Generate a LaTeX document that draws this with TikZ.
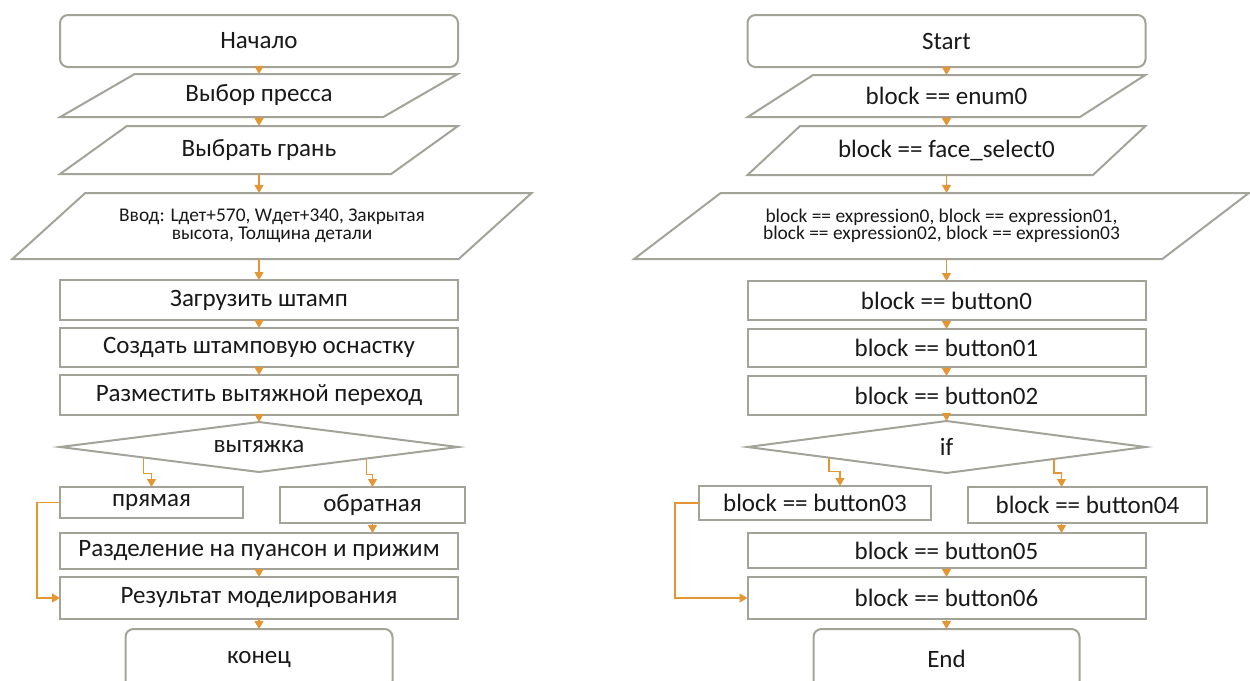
\documentclass[tikz,border=0pt]{standalone}
\usepackage{fontspec}
\setmainfont{Carlito}
\usepackage{tikz}
\usetikzlibrary{arrows.meta,positioning,shapes.geometric,calc}

\definecolor{linegray}{RGB}{163,163,154}
\definecolor{floworange}{RGB}{229,150,52}

\tikzset{
  box/.style={draw=linegray, line width=1pt, fill=white, inner sep=1pt, outer sep=0pt,
    text=black!90, font=\fontsize{12.5}{15}\selectfont},
  term/.style={box, rectangle, rounded corners=4pt, minimum width=199pt, minimum height=26pt},
  proc/.style={box, rectangle, minimum width=199pt, minimum height=20pt},
  io/.code={\pgfmathsetmacro\ioright{180-#1}
    \tikzset{box, trapezium, trapezium stretches=true, minimum width=199pt,
      trapezium left angle=#1, trapezium right angle/.expanded=\ioright}},
  cond/.style={box, diamond, aspect=8, inner sep=0pt, minimum width=199pt, minimum height=25pt},
  small/.style={font=\fontsize{9.7}{9}\selectfont, align=center},
  flow/.style={->, color=floworange, line width=0.6pt}
}

\begin{document}
\begin{tikzpicture}[x=0.5pt,y=-0.5pt,>={Triangle[length=4pt,width=4.5pt]}]
    \useasboundingbox (0,0) rectangle (1250,681);
    %% press tooling chart
    \node[term] (start) at (259,41) {Начало} ;
    \node[io=29,minimum height=21.5pt] (press) at (259,95.5) {Выбор пресса} ;
    \node[io=32,minimum height=24pt] (face) at (259,150) {Выбрать грань} ;
    \node[io=32,small,minimum width=260pt,minimum height=33pt] (input) at (272,226) {Ввод: Lдет+570, Wдет+340, Закрытая\\ высота, Толщина детали} ;
    \node[proc] (die) at (259,300) {Загрузить штамп} ;
    \node[proc,minimum height=19.5pt] (tooling) at (259,347.5) {Создать штамповую оснастку} ;
    \node[proc] (draft) at (259,395) {Разместить вытяжной переход} ;
    \node[cond] (kind) at (259,447) {вытяжка} ;
    \node[proc,minimum width=91.5pt,minimum height=15.5pt] (direct) at (151.5,502.5) {прямая} ;
    \node[proc,minimum width=92.5pt,minimum height=18pt] (reverse) at (372.5,505) {обратная} ;
    \node[proc,minimum height=18pt] (split) at (259,551) {Разделение на пуансон и прижим} ;
    \node[proc,minimum height=21pt] (result) at (259,598) {Результат моделирования} ;
    \node[term,minimum width=133.5pt,minimum height=30pt] (stop) at (259,659) {конец} ;
    %% same chart with the block names
    \node[term] (rstart) at (946.5,41) {Start} ;
    \node[io=28,minimum height=21pt] (renum) at (946.5,96) {block == enum0} ;
    \node[io=32,minimum height=24.5pt] (rface) at (946.5,150.5) {block == face\_select0} ;
    \node[io=28,small,minimum width=308.5pt,minimum height=33pt,font=\fontsize{9.7}{8.5}\selectfont] (rexpr) at (941.5,226) {block == expression0, block == expression01,\\ block == expression02, block == expression03} ;
    \node[proc,minimum height=19.5pt] (rb0) at (946.5,300.5) {block == button0} ;
    \node[proc,minimum height=19pt] (rb1) at (946.5,348) {block == button01} ;
    \node[proc,minimum height=19.5pt] (rb2) at (946.5,395.5) {block == button02} ;
    \node[cond,minimum height=26pt] (rif) at (946.5,447) {if} ;
    \node[proc,minimum width=116pt,minimum height=17pt] (rb3) at (815,503) {block == button03} ;
    \node[proc,minimum width=119.5pt,minimum height=18pt] (rb4) at (1087.5,505) {block == button04} ;
    \node[proc,minimum height=17.5pt] (rb5) at (946.5,550.5) {block == button05} ;
    \node[proc,minimum height=21pt] (rb6) at (946.5,598) {block == button06} ;
    \node[term,minimum width=133pt,minimum height=30pt] (rend) at (946.5,659) {End} ;
    %% straight links
    \path[flow]
    (start.south) edge (press.north)
    (press.south) edge (face.north)
    (face.south) edge (face.south |- input.north)
    (input.south -| die.north) edge (die.north)
    (die.south) edge (tooling.north)
    (tooling.south) edge (draft.north)
    (draft.south) edge (kind.north)
    (reverse.south) edge (reverse.south |- split.north)
    (split.south) edge (result.north)
    (result.south) edge (stop.north);
    \path[flow]
    (rstart.south) edge (renum.north)
    (renum.south) edge (rface.north)
    (rface.south) edge (rface.south |- rexpr.north)
    (rexpr.south -| rb0.north) edge (rb0.north)
    (rb0.south) edge (rb1.north)
    (rb1.south) edge (rb2.north)
    (rb2.south) edge (rif.north)
    ([xshift=-13pt]rb4.south) edge ([xshift=-13pt]rb4.south |- rb5.north)
    (rb5.south) edge (rb6.north)
    (rb6.south) edge (rend.north);
    %% branches
    \draw[flow] ($(kind.west)!0.42!(kind.south)$) -- ++(0,16) -| (direct.north) ;
    \draw[flow] ($(kind.east)!0.46!(kind.south)$) -- ++(0,16) -| (reverse.north) ;
    \draw[flow] (direct.west) -- ++(-23,0) |- (result.west) ;
    \draw[flow] ($(rif.west)!0.41!(rif.south)$) -- ++(0,14) -| ([xshift=12.5pt]rb3.north) ;
    \draw[flow] ($(rif.east)!0.46!(rif.south)$) -- ++(0,14) -| ([xshift=-13pt]rb4.north) ;
    \draw[flow] (rb3.west) -- ++(-24,0) |- (rb6.west) ;
\end{tikzpicture}
\end{document}
